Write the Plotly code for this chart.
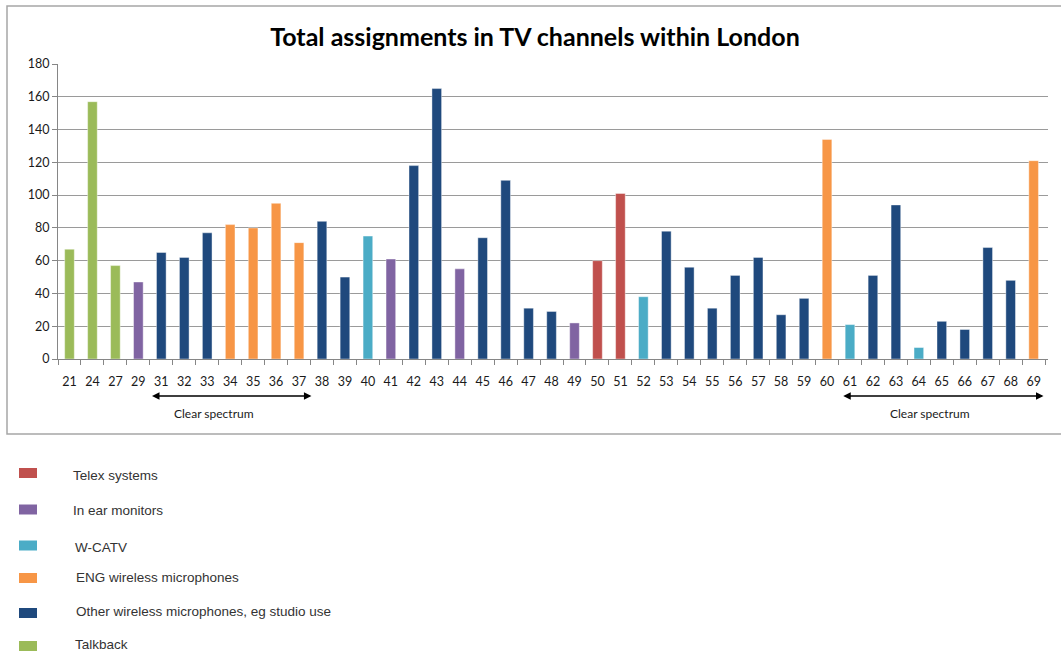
import plotly.graph_objects as go

# ---------------- data ----------------
channels = ["21", "24", "27", "29", "31", "32", "33", "34", "35", "36", "37", "38",
            "39", "40", "41", "42", "43", "44", "45", "46", "47", "48", "49", "50",
            "51", "52", "53", "54", "55", "56", "57", "58", "59", "60", "61", "62",
            "63", "64", "65", "66", "67", "68", "69"]
values = [67, 157, 57, 47, 65, 62, 77, 82, 80, 95, 71, 84,
          50, 75, 61, 118, 165, 55, 74, 109, 31, 29, 22, 60,
          101, 38, 78, 56, 31, 51, 62, 27, 37, 134, 21, 51,
          94, 7, 23, 18, 68, 48, 121]
services = ["Talkback", "Talkback", "Talkback", "In ear monitors",
            "Other", "Other", "Other", "ENG", "ENG", "ENG", "ENG", "Other",
            "Other", "W-CATV", "In ear monitors", "Other", "Other", "In ear monitors",
            "Other", "Other", "Other", "Other", "In ear monitors", "Telex",
            "Telex", "W-CATV", "Other", "Other", "Other", "Other", "Other", "Other",
            "Other", "ENG", "W-CATV", "Other", "Other", "W-CATV", "Other", "Other",
            "Other", "Other", "ENG"]
legend_keys = ["Telex", "In ear monitors", "W-CATV", "ENG", "Other", "Talkback"]
legend_labels = ["Telex systems", "In ear monitors", "W-CATV",
                 "ENG wireless microphones",
                 "Other wireless microphones, eg studio use", "Talkback"]
clear_spectrum_spans = [("31", "37"), ("61", "69")]
title_text = "Total assignments in TV channels within London"
y_ticks = [0, 20, 40, 60, 80, 100, 120, 140, 160, 180]

# ---------------- styles ----------------
colors = {
    "Telex": "#C0504D",
    "In ear monitors": "#8064A2",
    "W-CATV": "#4BACC6",
    "ENG": "#F79646",
    "Other": "#1F497D",
    "Talkback": "#9BBB59",
}
W, H = 1061, 655
L, R, T, B = 58, 13, 64, 296
PW, PH = W - L - R, H - T - B


def px_x(px):
    return (px - L) / PW


def px_y(py):
    return (H - B - py) / PH


fig = go.Figure(
    go.Bar(
        x=channels,
        y=values,
        marker=dict(color=[colors[s] for s in services],
                    line=dict(color="rgba(255,255,255,0.7)", width=0.6)),
        showlegend=False,
    )
)

axis_font = dict(family="Lato, Carlito, Calibri, sans-serif", size=12.5, color="#1a1a1a")
fig.update_layout(
    width=W, height=H,
    margin=dict(l=L, r=R, t=T, b=B),
    paper_bgcolor="white", plot_bgcolor="white",
    bargap=0.58,
    title=dict(text="<b>" + title_text + "</b>", x=535 / W, xref="container",
               xanchor="center", y=1 - 37 / H, yref="container", yanchor="middle",
               font=dict(family="Lato, Carlito, Calibri, sans-serif", size=25, color="black")),
    xaxis=dict(type="category", showline=True, linecolor="#868686", linewidth=1,
               ticks="outside", tickson="boundaries", ticklen=5, tickcolor="#868686",
               tickfont=axis_font, tickangle=0, showgrid=False, ticklabelstandoff=11,
               fixedrange=True),
    yaxis=dict(range=[0, 180], tickvals=y_ticks, showline=True, linecolor="#868686",
               linewidth=1, ticks="outside", ticklen=5, tickcolor="#868686",
               gridcolor="#9a9a9a", gridwidth=1, tickfont=axis_font, zeroline=False,
               fixedrange=True),
)

# chart border
fig.add_shape(type="rect", xref="paper", yref="paper",
              x0=px_x(7), x1=px_x(1075), y0=px_y(434), y1=px_y(6),
              line=dict(color="#a6a6a6", width=1.5), fillcolor="rgba(0,0,0,0)")

# clear spectrum arrows
offsets = [(-0.47, 0.54, -0.7), (-0.36, 0.43, -0.5)]
for (c0, c1), (o0, o1, ot) in zip(clear_spectrum_spans, offsets):
    i0 = channels.index(c0)
    i1 = channels.index(c1)
    fig.add_annotation(x=i1 + o1, y=px_y(396), xref="x", yref="paper",
                       ax=i0 + o0, ay=0, axref="x", ayref="pixel",
                       text="", showarrow=True, arrowside="end+start",
                       arrowhead=2, startarrowhead=2, arrowsize=1, startarrowsize=1,
                       arrowwidth=1.5, arrowcolor="black")
    fig.add_annotation(x=(i0 + i1) / 2 + ot, y=px_y(413), xref="x", yref="paper",
                       text="Clear spectrum", showarrow=False,
                       font=dict(family="Lato, Carlito, Calibri, sans-serif", size=12,
                                 color="#1a1a1a"),
                       xanchor="center", yanchor="middle")

# legend (drawn below the chart box)
sq_y = [473, 509.5, 545.5, 578, 613, 646]
tx_y = [475, 510, 547, 577, 611, 644]
tx_x = [73, 73, 75, 76, 76, 75]
for k, lab, sy, ty, tx in zip(legend_keys, legend_labels, sq_y, tx_y, tx_x):
    fig.add_shape(type="rect", xref="paper", yref="paper",
                  x0=px_x(19), x1=px_x(37), y0=px_y(sy + 5), y1=px_y(sy - 5),
                  line=dict(width=0), fillcolor=colors[k])
    fig.add_annotation(x=px_x(tx - 2), y=px_y(ty), xref="paper", yref="paper",
                       text=lab, showarrow=False, xanchor="left", yanchor="middle",
                       font=dict(family="Liberation Sans, Arial, sans-serif", size=13.5,
                                 color="#333333"))

fig.write_html("out.html")
